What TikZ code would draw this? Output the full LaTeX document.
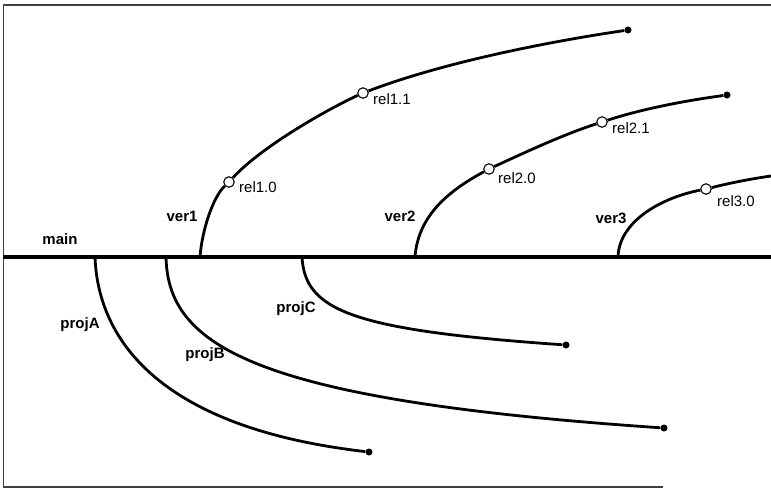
\documentclass[tikz,border=0pt]{standalone}
\usepackage{fontspec}
\setmainfont{Liberation Sans}
\begin{document}
\begin{tikzpicture}[x=1pt,y=-1pt,
  branch/.style={line width=2.8pt},
  mainline/.style={line width=3.6pt},
  framestyle/.style={line width=1.4pt, draw=black!75},
  relpt/.style={circle, draw, fill=white, line width=1.1pt, minimum size=10.5pt, inner sep=0pt},
  endpt/.style={circle, fill=black, minimum size=7pt, inner sep=0pt},
  blbl/.style={font=\fontsize{15}{18}\selectfont\bfseries, inner sep=0pt},
  rlbl/.style={font=\fontsize{15}{18}\selectfont, inner sep=0pt},
]
\useasboundingbox (0,0) rectangle (771,488);

% frame
\coordinate (fTL) at (3.5,5);
\coordinate (fTR) at (771,5);
\coordinate (fBL) at (3.5,487);
\coordinate (fBR) at (663,487);
\draw[framestyle] (fTR) -- (fTL) -- (fBL) -- (fBR);

% main line
\coordinate (mL) at (3,257);
\coordinate (mR) at (771,257);
\draw[mainline] (mL) -- (mR);
\node[blbl] (tmain) at (60,239) {main};

% branch points
\coordinate (v1) at (200,257);
\coordinate (v2) at (415,257);
\coordinate (v3) at (618,257);
\coordinate (pA) at (95,257);
\coordinate (pB) at (166,257);
\coordinate (pC) at (302,257);

% release points
\node[relpt] (r10) at (229,182) {};
\node[relpt] (r11) at (363,93) {};
\node[relpt] (r20) at (489,169) {};
\node[relpt] (r21) at (602,122) {};
\node[relpt] (r30) at (706,189) {};

% end points
\node[endpt] (e1) at (628,30) {};
\node[endpt] (e2) at (727,95) {};
\coordinate (e3) at (771,176);
\node[endpt] (eA) at (369,452) {};
\node[endpt] (eB) at (664,428) {};
\node[endpt] (eC) at (566,345) {};

% ver1
\draw[branch] (v1) .. controls (202,230) and (213,197) .. (r10)
  .. controls (262,146) and (330,108) .. (r11)
  .. controls (450,60) and (560,40) .. (e1);
% ver2
\draw[branch] (v2) .. controls (418,215) and (450,190) .. (r20)
  .. controls (530,150) and (565,134) .. (r21)
  .. controls (645,108) and (690,100) .. (e2);
% ver3
\draw[branch] (v3) .. controls (619,222) and (660,198) .. (r30)
  .. controls (730,183) and (750,179) .. (e3);
% projects
\draw[branch] (pA) .. controls (98,340) and (160,428) .. (eA);
\draw[branch] (pB) .. controls (168,345) and (250,400) .. (eB);
\draw[branch] (pC) .. controls (305,310) and (350,330) .. (eC);

% labels
\node[blbl] (tv1) at (182,216) {ver1};
\node[blbl] (tv2) at (400,216) {ver2};
\node[blbl] (tv3) at (611,218) {ver3};
\node[blbl] (tpA) at (80,325) {projA};
\node[blbl] (tpB) at (205,355) {projB};
\node[blbl] (tpC) at (296,309) {projC};

\node[rlbl, anchor=west] (t10) at (239,187) {rel1.0};
\node[rlbl, anchor=west] (t11) at (373,99) {rel1.1};
\node[rlbl, anchor=west] (t20) at (498,178) {rel2.0};
\node[rlbl, anchor=west] (t21) at (612,128) {rel2.1};
\node[rlbl, anchor=west] (t30) at (717,201) {rel3.0};
\end{tikzpicture}
\end{document}
